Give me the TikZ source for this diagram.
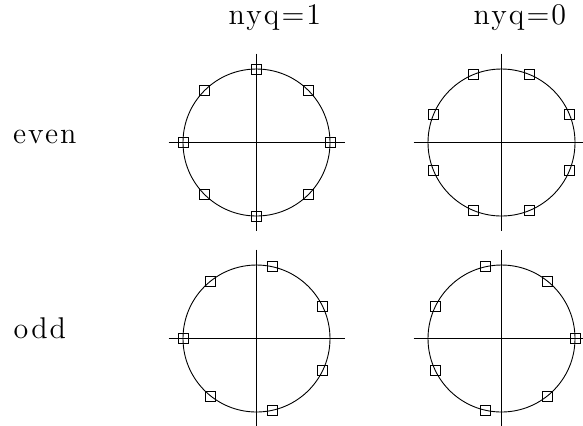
\documentclass[tikz,border=0pt]{standalone}
\usepackage{fontspec}
\usepackage{tikz}
\usetikzlibrary{positioning,calc}
\newfontfamily\lblfont{lmroman12-regular.otf}[LetterSpace=7]
\tikzset{
  root/.style={draw,rectangle,minimum size=5pt,inner sep=0pt,line width=0.4pt},
  axis/.style={line width=0.5pt},
  unit/.style={line width=0.45pt},
  lbl/.style={font=\lblfont\fontsize{15}{17}\selectfont,inner sep=0pt,anchor=base west}
}

\begin{document}
\begin{tikzpicture}[x=0.5pt,y=-0.5pt]
\useasboundingbox (0,0) rectangle (583,425);
\foreach \cx/\cy/\cnt/\off/\id in {256.5/142.5/8/0/a, 501.5/142.5/8/22.5/b, 256.5/338.5/7/180/c, 501.5/338.5/7/0/d} {
  \coordinate (\id) at (\cx,\cy);
  \draw[axis] ($(\id)+(-88,0)$) -- ($(\id)+(88,0)$);
  \draw[axis] ($(\id)+(0,-89)$) -- ($(\id)+(0,88)$);
  \draw[unit] (\id) circle[radius=36.75pt];
  \foreach \k in {1,...,\cnt}
    \node[root] (\id\k) at ($(\id)+(\off+\k*360/\cnt:73.5)$) {};
}
\node[lbl] (nyqone) at (228.3,24) {nyq=1};
\node[lbl] (nyqzero) at (473.3,24) {nyq=0};
\node[lbl] (even) at (12.7,143.3) {even};
\node[lbl] (odd) at (13.3,338.3) {odd};
\end{tikzpicture}
\end{document}
